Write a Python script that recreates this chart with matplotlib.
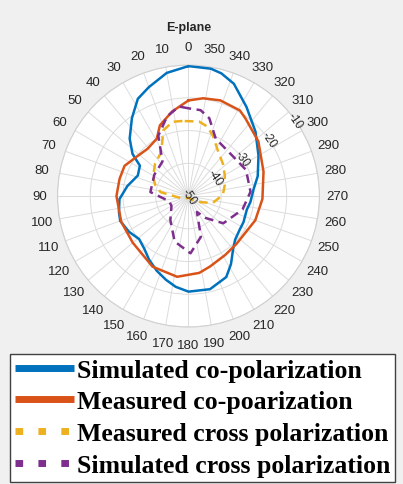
import numpy as np
import matplotlib
matplotlib.use('Agg')
import matplotlib.pyplot as plt
from matplotlib.lines import Line2D

plt.rcParams['font.family'] = ['Liberation Sans', 'DejaVu Sans']

# E-plane pattern, angle in degrees, gain in dB
sim_co_ang = [0, 10, 20, 27.5, 36, 45.7, 53, 58, 68, 80.6, 92.5, 103, 110, 121,
              131, 140, 148, 157, 165, 172, 180, 193, 205, 212, 220, 227, 237,
              244.5, 257, 264.4, 276, 286, 300, 313.9, 327, 338, 345, 350]
sim_co_db = [-10.3, -11.8, -14.6, -16.5, -20.6, -24.9, -28.6, -32.5, -33.3, -31.1,
             -28.9, -28.2, -27.8, -28.8, -30, -29, -27.2, -25.2, -23.5, -22,
             -20.8, -20.8, -22.7, -25.5, -28.8, -30.5, -31.3, -31.4, -31.7, -31,
             -30, -28, -25.3, -21.6, -17.5, -13, -11.2, -10.5]

meas_co_ang = [0, 11, 22, 29, 41, 53, 64.7, 76, 90, 111, 130, 153, 172, 188,
               197, 212, 225, 240, 250, 267.7, 288, 308, 323.7, 329, 341.6, 351.5]
meas_co_db = [-20.8, -23.7, -26.7, -30, -30.9, -30.1, -28.4, -28.3, -28, -28,
              -27.8, -25.8, -25.1, -26.3, -27.5, -28.8, -29.3, -29.2, -28.3,
              -27.4, -25.9, -22.9, -20.6, -19.5, -19.2, -19.8]

meas_x_ang = [4.6, 12, 21, 26.6, 33.7, 46, 61.5, 71.6, 82, 87, 104, 130, 180,
              220, 243, 254, 272, 287, 300, 313, 327, 338, 345, 352]
meas_x_db = [-27, -26.8, -28.5, -32, -34.5, -35.8, -37.7, -39.3, -41.4, -44.5,
             -47.5, -49, -49.5, -48.5, -45.9, -42.3, -39.5, -38.4, -37.2, -35.6,
             -33.5, -30.1, -28, -27]

sim_x_ang = [0, 6, 15, 26.6, 37, 58, 84, 105, 120, 143, 163, 182, 197, 208, 218,
             232, 256, 274, 294.5, 313.6, 334.6, 345, 352]
sim_x_db = [-23.2, -22.5, -24.8, -29.4, -36.8, -37.7, -38.3, -43.9, -44, -40.8,
            -35.5, -32.5, -37, -44.5, -41.5, -36.5, -33, -31, -30.7, -31.8,
            -30.6, -25.4, -23.5]

r_ticks = [-50, -40, -30, -20, -10]

series = [
    ('Simulated co-polarization', sim_co_ang, sim_co_db, '#0072BD', '-'),
    ('Measured co-poarization', meas_co_ang, meas_co_db, '#D95319', '-'),
    ('Measured cross polarization', meas_x_ang, meas_x_db, '#EDB120', '--'),
    ('Simulated cross polarization', sim_x_ang, sim_x_db, '#7E2F8E', '--'),
]

fig = plt.figure(figsize=(4.03, 4.85), dpi=100)
fig.patch.set_facecolor('#f0f0f0')

ax = fig.add_axes([0.1427, 0.3237, 0.650, 0.540], projection='polar')
ax.set_facecolor('white')
ax.set_theta_zero_location('N')
ax.set_theta_direction(1)
ax.set_ylim(-50, -10)

for name, ang, db, col, ls in series:
    a = np.deg2rad(ang + [ang[0]])
    r = db + [db[0]]
    if ls == '--':
        ax.plot(a, r, color=col, lw=1.8, linestyle=(0, (3.5, 2.2)), zorder=3)
    else:
        ax.plot(a, r, color=col, lw=1.8, zorder=3)

theta_ticks = np.arange(0, 360, 10)
ax.set_thetagrids(theta_ticks, labels=[str(t) for t in theta_ticks])
ax.tick_params(axis='x', pad=2.5, labelsize=9.5, colors='#262626')
ax.set_rticks(r_ticks)
ax.set_yticklabels([])
# radial labels sit on the rings, turned along the ring
for rv in r_ticks:
    ax.text(np.deg2rad(305.5), rv, str(rv), rotation=-55, rotation_mode='anchor',
            ha='center', va='center', fontsize=8.5, color='#262626', zorder=4)
ax.grid(True, color='#dcdcdc', lw=0.7)
ax.spines['polar'].set_color('#d0d0d0')
ax.spines['polar'].set_linewidth(0.8)

fig.text(188.5 / 403, 1 - 28 / 485, 'E-plane', ha='center', va='center',
         fontsize=9, fontweight='bold', color='#262626')

handles = []
for name, ang, db, col, ls in series:
    if ls == '--':
        h = Line2D([], [], color=col, lw=5, linestyle=(0, (1.1, 2.2)),
                   solid_capstyle='butt', dash_capstyle='butt')
    else:
        h = Line2D([], [], color=col, lw=5, solid_capstyle='butt')
    handles.append(h)

leg = fig.legend(handles, [s[0] for s in series], loc='lower left',
                 bbox_to_anchor=(10 / 403, 2 / 485),
                 prop={'family': 'Liberation Serif', 'weight': 'bold', 'size': 18.5},
                 handlelength=2.3, handletextpad=0.1, labelspacing=0.34,
                 borderpad=0.2, borderaxespad=0, fancybox=False, framealpha=1)
leg.get_frame().set_edgecolor('#404040')
leg.get_frame().set_linewidth(1.0)

fig.savefig('out.png', dpi=100, facecolor=fig.get_facecolor())
